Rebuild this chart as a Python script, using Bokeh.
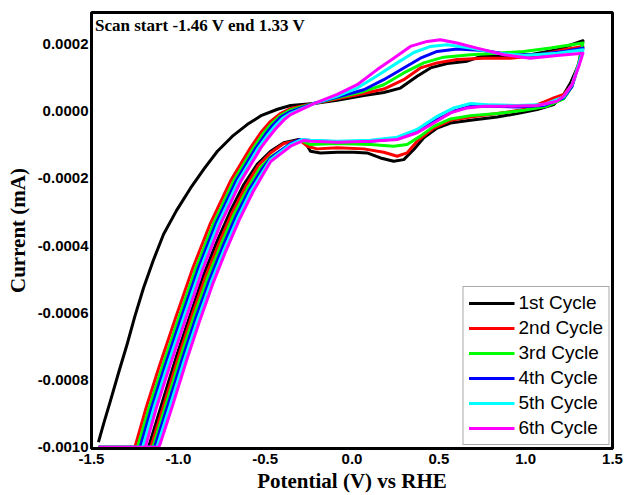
from bokeh.plotting import figure
from bokeh.models import Range1d, FixedTicker, PrintfTickFormatter, Label
from bokeh.embed import file_html
from bokeh.resources import INLINE

# ---- data (potential in V vs RHE, current in mA) ----
cycle_labels = ["1st Cycle", "2nd Cycle", "3rd Cycle", "4th Cycle", "5th Cycle", "6th Cycle"]
cycle_colors = ["#000000", "#FF0000", "#00FF00", "#0000FF", "#00FFFF", "#FF00FF"]

c1_v = [-1.46, -1.43, -1.391, -1.345, -1.294, -1.25, -1.201, -1.145, -1.085, -1.01, -0.930,
        -0.85, -0.775, -0.69, -0.602, -0.52, -0.429, -0.354,
        -0.220, -0.085, 0.068, 0.183, 0.279, 0.375, 0.452, 0.548, 0.663, 0.759, 0.874,
        1.027, 1.181, 1.330,
        1.306, 1.258, 1.219, 1.162, 1.066, 0.951, 0.836, 0.682, 0.567, 0.490, 0.413, 0.356,
        0.298, 0.240, 0.164, 0.087, 0.010, -0.085, -0.182, -0.239, -0.268, -0.307, -0.393,
        -0.469, -0.546, -0.623, -0.700, -0.776, -0.853, -0.930, -1.007, -1.084, -1.160,
        -1.172, -1.46]
c1_i = [-9.85e-4, -9.30e-4, -8.62e-4, -7.80e-4, -6.92e-4, -6.10e-4, -5.27e-4, -4.45e-4, -3.66e-4, -2.95e-4, -2.29e-4,
        -1.70e-4, -1.19e-4, -0.75e-4, -0.39e-4, -0.12e-4, 0.06e-4, 0.17e-4,
        0.23e-4, 0.33e-4, 0.47e-4, 0.56e-4, 0.69e-4, 1.04e-4, 1.29e-4, 1.42e-4, 1.49e-4, 1.66e-4, 1.63e-4,
        1.68e-4, 1.83e-4, 2.10e-4,
        1.40e-4, 0.84e-4, 0.50e-4, 0.20e-4, 0.05e-4, -0.07e-4, -0.17e-4, -0.27e-4, -0.35e-4, -0.50e-4, -0.79e-4, -1.14e-4,
        -1.44e-4, -1.49e-4, -1.39e-4, -1.24e-4, -1.22e-4, -1.22e-4, -1.24e-4, -1.19e-4, -0.94e-4, -0.84e-4, -0.94e-4,
        -1.19e-4, -1.58e-4, -2.18e-4, -2.97e-4, -3.86e-4, -4.85e-4, -6.04e-4, -7.23e-4, -8.52e-4, -9.81e-4,
        -10.0e-4, -10.0e-4]

c2_v = [-1.46, -1.25, -1.185, -1.112, -1.015, -0.916, -0.818, -0.700, -0.585, -0.52, -0.469, -0.41, -0.354,
        -0.220, -0.085, 0.068, 0.183, 0.298, 0.394, 0.490, 0.605, 0.759, 0.912, 1.066, 1.219, 1.330,
        1.306, 1.267, 1.219, 1.162, 1.104, 0.989, 0.836, 0.682, 0.567, 0.471, 0.375, 0.317, 0.260,
        0.183, 0.068, -0.085, -0.201, -0.258, -0.300, -0.393, -0.469, -0.540, -0.610, -0.690,
        -0.765, -0.843, -0.920, -0.995, -1.072, -1.148, -1.158, -1.46]
c2_i = [-10.0e-4, -10.0e-4, -8.82e-4, -7.63e-4, -6.14e-4, -4.66e-4, -3.37e-4, -2.08e-4, -1.09e-4, -0.60e-4, -0.30e-4, -0.06e-4, 0.08e-4,
        0.23e-4, 0.37e-4, 0.53e-4, 0.66e-4, 0.94e-4, 1.29e-4, 1.44e-4, 1.54e-4, 1.58e-4, 1.58e-4, 1.66e-4, 1.83e-4, 1.93e-4,
        1.44e-4, 0.79e-4, 0.50e-4, 0.40e-4, 0.27e-4, 0.05e-4, -0.07e-4, -0.17e-4, -0.27e-4, -0.50e-4, -0.89e-4, -1.24e-4, -1.34e-4,
        -1.22e-4, -1.12e-4, -1.09e-4, -1.12e-4, -1.04e-4, -0.86e-4, -0.96e-4, -1.24e-4, -1.62e-4, -2.22e-4, -3.02e-4,
        -3.92e-4, -4.92e-4, -6.06e-4, -7.24e-4, -8.55e-4, -9.82e-4, -10.0e-4, -10.0e-4]

c3_v = [-1.46, -1.235, -1.168, -1.094, -0.997, -0.898, -0.800, -0.682, -0.567, -0.51, -0.469, -0.41, -0.354,
        -0.220, -0.085, 0.068, 0.183, 0.298, 0.413, 0.528, 0.682, 0.836, 0.989, 1.143, 1.330,
        1.306, 1.267, 1.219, 1.123, 0.989, 0.836, 0.682, 0.567, 0.471, 0.394, 0.317, 0.240,
        0.106, -0.085, -0.239, -0.297, -0.354, -0.469, -0.530, -0.600, -0.680, -0.755, -0.833,
        -0.910, -0.985, -1.062, -1.137, -1.147, -1.46]
c3_i = [-10.0e-4, -10.0e-4, -8.82e-4, -7.63e-4, -6.14e-4, -4.66e-4, -3.37e-4, -2.08e-4, -1.09e-4, -0.66e-4, -0.40e-4, -0.12e-4, 0.04e-4,
        0.23e-4, 0.40e-4, 0.59e-4, 0.79e-4, 1.14e-4, 1.44e-4, 1.61e-4, 1.68e-4, 1.73e-4, 1.78e-4, 1.88e-4, 2.03e-4,
        1.44e-4, 0.74e-4, 0.37e-4, 0.15e-4, 0.03e-4, -0.07e-4, -0.13e-4, -0.23e-4, -0.45e-4, -0.74e-4, -0.99e-4, -1.04e-4,
        -0.99e-4, -0.96e-4, -0.99e-4, -0.87e-4, -0.99e-4, -1.36e-4, -1.70e-4, -2.28e-4, -3.08e-4, -3.98e-4, -4.98e-4,
        -6.10e-4, -7.28e-4, -8.58e-4, -9.84e-4, -10.0e-4, -10.0e-4]

c4_v = [-1.46, -1.22, -1.154, -1.080, -0.983, -0.884, -0.786, -0.668, -0.553, -0.50, -0.46, -0.41, -0.354,
        -0.220, -0.085, 0.068, 0.183, 0.298, 0.394, 0.490, 0.605, 0.759, 0.912, 1.066, 1.219, 1.330,
        1.306, 1.267, 1.219, 1.104, 0.951, 0.797, 0.682, 0.586, 0.490, 0.375, 0.260, 0.106,
        -0.085, -0.239, -0.297, -0.354, -0.469, -0.520, -0.590, -0.668, -0.745, -0.822, -0.900,
        -0.975, -1.052, -1.128, -1.136, -1.46]
c4_i = [-10.0e-4, -10.0e-4, -8.82e-4, -7.63e-4, -6.14e-4, -4.66e-4, -3.37e-4, -2.08e-4, -1.09e-4, -0.70e-4, -0.44e-4, -0.17e-4, -0.01e-4,
        0.23e-4, 0.42e-4, 0.64e-4, 0.94e-4, 1.29e-4, 1.58e-4, 1.78e-4, 1.85e-4, 1.81e-4, 1.68e-4, 1.68e-4, 1.78e-4, 1.88e-4,
        1.39e-4, 0.74e-4, 0.40e-4, 0.17e-4, 0.13e-4, 0.15e-4, 0.15e-4, 0.0, -0.25e-4, -0.62e-4, -0.82e-4, -0.89e-4,
        -0.91e-4, -0.87e-4, -0.84e-4, -0.96e-4, -1.39e-4, -1.74e-4, -2.32e-4, -3.12e-4, -4.04e-4, -5.04e-4, -6.16e-4,
        -7.34e-4, -8.62e-4, -9.86e-4, -10.0e-4, -10.0e-4]

c5_v = [-1.46, -1.205, -1.140, -1.066, -0.969, -0.870, -0.772, -0.654, -0.539, -0.49, -0.45, -0.40, -0.354,
        -0.220, -0.085, 0.030, 0.145, 0.260, 0.356, 0.452, 0.548, 0.682, 0.836, 0.989, 1.181, 1.330,
        1.306, 1.267, 1.219, 1.104, 0.951, 0.797, 0.682, 0.586, 0.490, 0.375, 0.260, 0.106,
        -0.085, -0.239, -0.287, -0.354, -0.469, -0.515, -0.580, -0.658, -0.735, -0.812, -0.890,
        -0.965, -1.042, -1.117, -1.124, -1.46]
c5_i = [-10.0e-4, -10.0e-4, -8.82e-4, -7.63e-4, -6.14e-4, -4.66e-4, -3.37e-4, -2.08e-4, -1.09e-4, -0.74e-4, -0.48e-4, -0.21e-4, -0.06e-4,
        0.23e-4, 0.45e-4, 0.69e-4, 1.06e-4, 1.44e-4, 1.75e-4, 1.93e-4, 1.98e-4, 1.88e-4, 1.73e-4, 1.66e-4, 1.73e-4, 1.83e-4,
        1.39e-4, 0.79e-4, 0.43e-4, 0.20e-4, 0.17e-4, 0.19e-4, 0.23e-4, 0.10e-4, -0.15e-4, -0.54e-4, -0.77e-4, -0.86e-4,
        -0.89e-4, -0.86e-4, -0.84e-4, -0.99e-4, -1.44e-4, -1.82e-4, -2.36e-4, -3.18e-4, -4.10e-4, -5.10e-4, -6.22e-4,
        -7.40e-4, -8.68e-4, -9.90e-4, -10.0e-4, -10.0e-4]

c6_v = [-1.46, -1.19, -1.126, -1.052, -0.955, -0.856, -0.758, -0.640, -0.525, -0.48, -0.44, -0.39, -0.354,
        -0.220, -0.085, 0.030, 0.145, 0.240, 0.336, 0.433, 0.509, 0.605, 0.720, 0.874, 1.027, 1.181, 1.330,
        1.306, 1.267, 1.219, 1.181, 1.066, 0.874, 0.759, 0.663, 0.567, 0.471, 0.375, 0.260, 0.106,
        -0.085, -0.239, -0.278, -0.354, -0.469, -0.510, -0.570, -0.648, -0.725, -0.802, -0.880,
        -0.955, -1.032, -1.106, -1.113, -1.46]
c6_i = [-10.0e-4, -10.0e-4, -8.82e-4, -7.63e-4, -6.14e-4, -4.66e-4, -3.37e-4, -2.08e-4, -1.09e-4, -0.78e-4, -0.52e-4, -0.25e-4, -0.10e-4,
        0.23e-4, 0.50e-4, 0.79e-4, 1.24e-4, 1.58e-4, 1.93e-4, 2.08e-4, 2.13e-4, 2.03e-4, 1.88e-4, 1.68e-4, 1.58e-4, 1.66e-4, 1.73e-4,
        1.34e-4, 0.79e-4, 0.45e-4, 0.30e-4, 0.17e-4, 0.15e-4, 0.15e-4, 0.10e-4, -0.05e-4, -0.35e-4, -0.64e-4, -0.84e-4, -0.89e-4,
        -0.92e-4, -0.89e-4, -0.87e-4, -1.04e-4, -1.50e-4, -1.86e-4, -2.40e-4, -3.22e-4, -4.14e-4, -5.14e-4, -6.28e-4,
        -7.46e-4, -8.74e-4, -9.92e-4, -10.0e-4, -10.0e-4]

x_ticks = [-1.5, -1.0, -0.5, 0.0, 0.5, 1.0, 1.5]
y_ticks = [-0.0010, -0.0008, -0.0006, -0.0004, -0.0002, 0.0, 0.0002]
title_text = "Scan start -1.46 V end 1.33 V"

# ---- figure ----
p = figure(width=624, height=495, output_backend="svg", toolbar_location=None,
           x_range=Range1d(-1.5, 1.5), y_range=Range1d(-0.001004, 0.000294),
           min_border_left=91, min_border_right=12, min_border_top=12, min_border_bottom=45,
           background_fill_color="white", border_fill_color="white")

series = [(c1_v, c1_i), (c2_v, c2_i), (c3_v, c3_i), (c4_v, c4_i), (c5_v, c5_i), (c6_v, c6_i)]
for (vs, cs), lab, col in zip(series, cycle_labels, cycle_colors):
    p.line(vs, cs, line_color=col, line_width=3, line_join="round", legend_label=lab)

p.xgrid.grid_line_color = None
p.ygrid.grid_line_color = None
p.outline_line_color = "black"
p.outline_line_width = 3
p.outline_line_alpha = 1.0

for ax in (p.xaxis[0], p.yaxis[0]):
    ax.axis_line_color = "black"
    ax.axis_line_width = 3
    ax.major_tick_line_color = None
    ax.minor_tick_line_color = None
    ax.major_tick_out = 0
    ax.major_tick_in = 0
    ax.major_label_text_font = "Liberation Sans"
    ax.major_label_text_font_style = "bold"
    ax.major_label_text_font_size = "15px"
    ax.major_label_text_color = "black"
    ax.axis_label_text_font = "Liberation Serif"
    ax.axis_label_text_font_style = "bold"
    ax.axis_label_text_font_size = "21px"
    ax.axis_label_text_color = "black"

p.xaxis.ticker = FixedTicker(ticks=x_ticks)
p.yaxis.ticker = FixedTicker(ticks=y_ticks)
p.xaxis.formatter = PrintfTickFormatter(format="%.1f")
p.yaxis.formatter = PrintfTickFormatter(format="%.4f")
p.xaxis.axis_label = "Potential (V) vs RHE"
p.yaxis.axis_label = "Current (mA)"
p.xaxis.major_label_standoff = 5
p.xaxis.axis_label_standoff = 2
p.yaxis.major_label_standoff = 3
p.yaxis.axis_label_standoff = 5

p.add_layout(Label(x=-1.48, y=0.000294, text=title_text, text_font="Liberation Serif",
                   text_font_style="bold", text_font_size="17px", text_baseline="top",
                   y_offset=-3, text_color="black"))

lg = p.legend[0]
lg.location = "bottom_right"
lg.border_line_color = "#555555"
lg.border_line_width = 1
lg.background_fill_alpha = 1.0
lg.label_text_font = "Liberation Sans"
lg.label_text_font_size = "19px"
lg.label_text_color = "black"
lg.glyph_width = 46
lg.glyph_height = 20
lg.label_height = 20
lg.spacing = 3
lg.padding = 5
lg.margin = 3
lg.label_standoff = 4

open("out.html", "w").write(file_html(p, INLINE))
